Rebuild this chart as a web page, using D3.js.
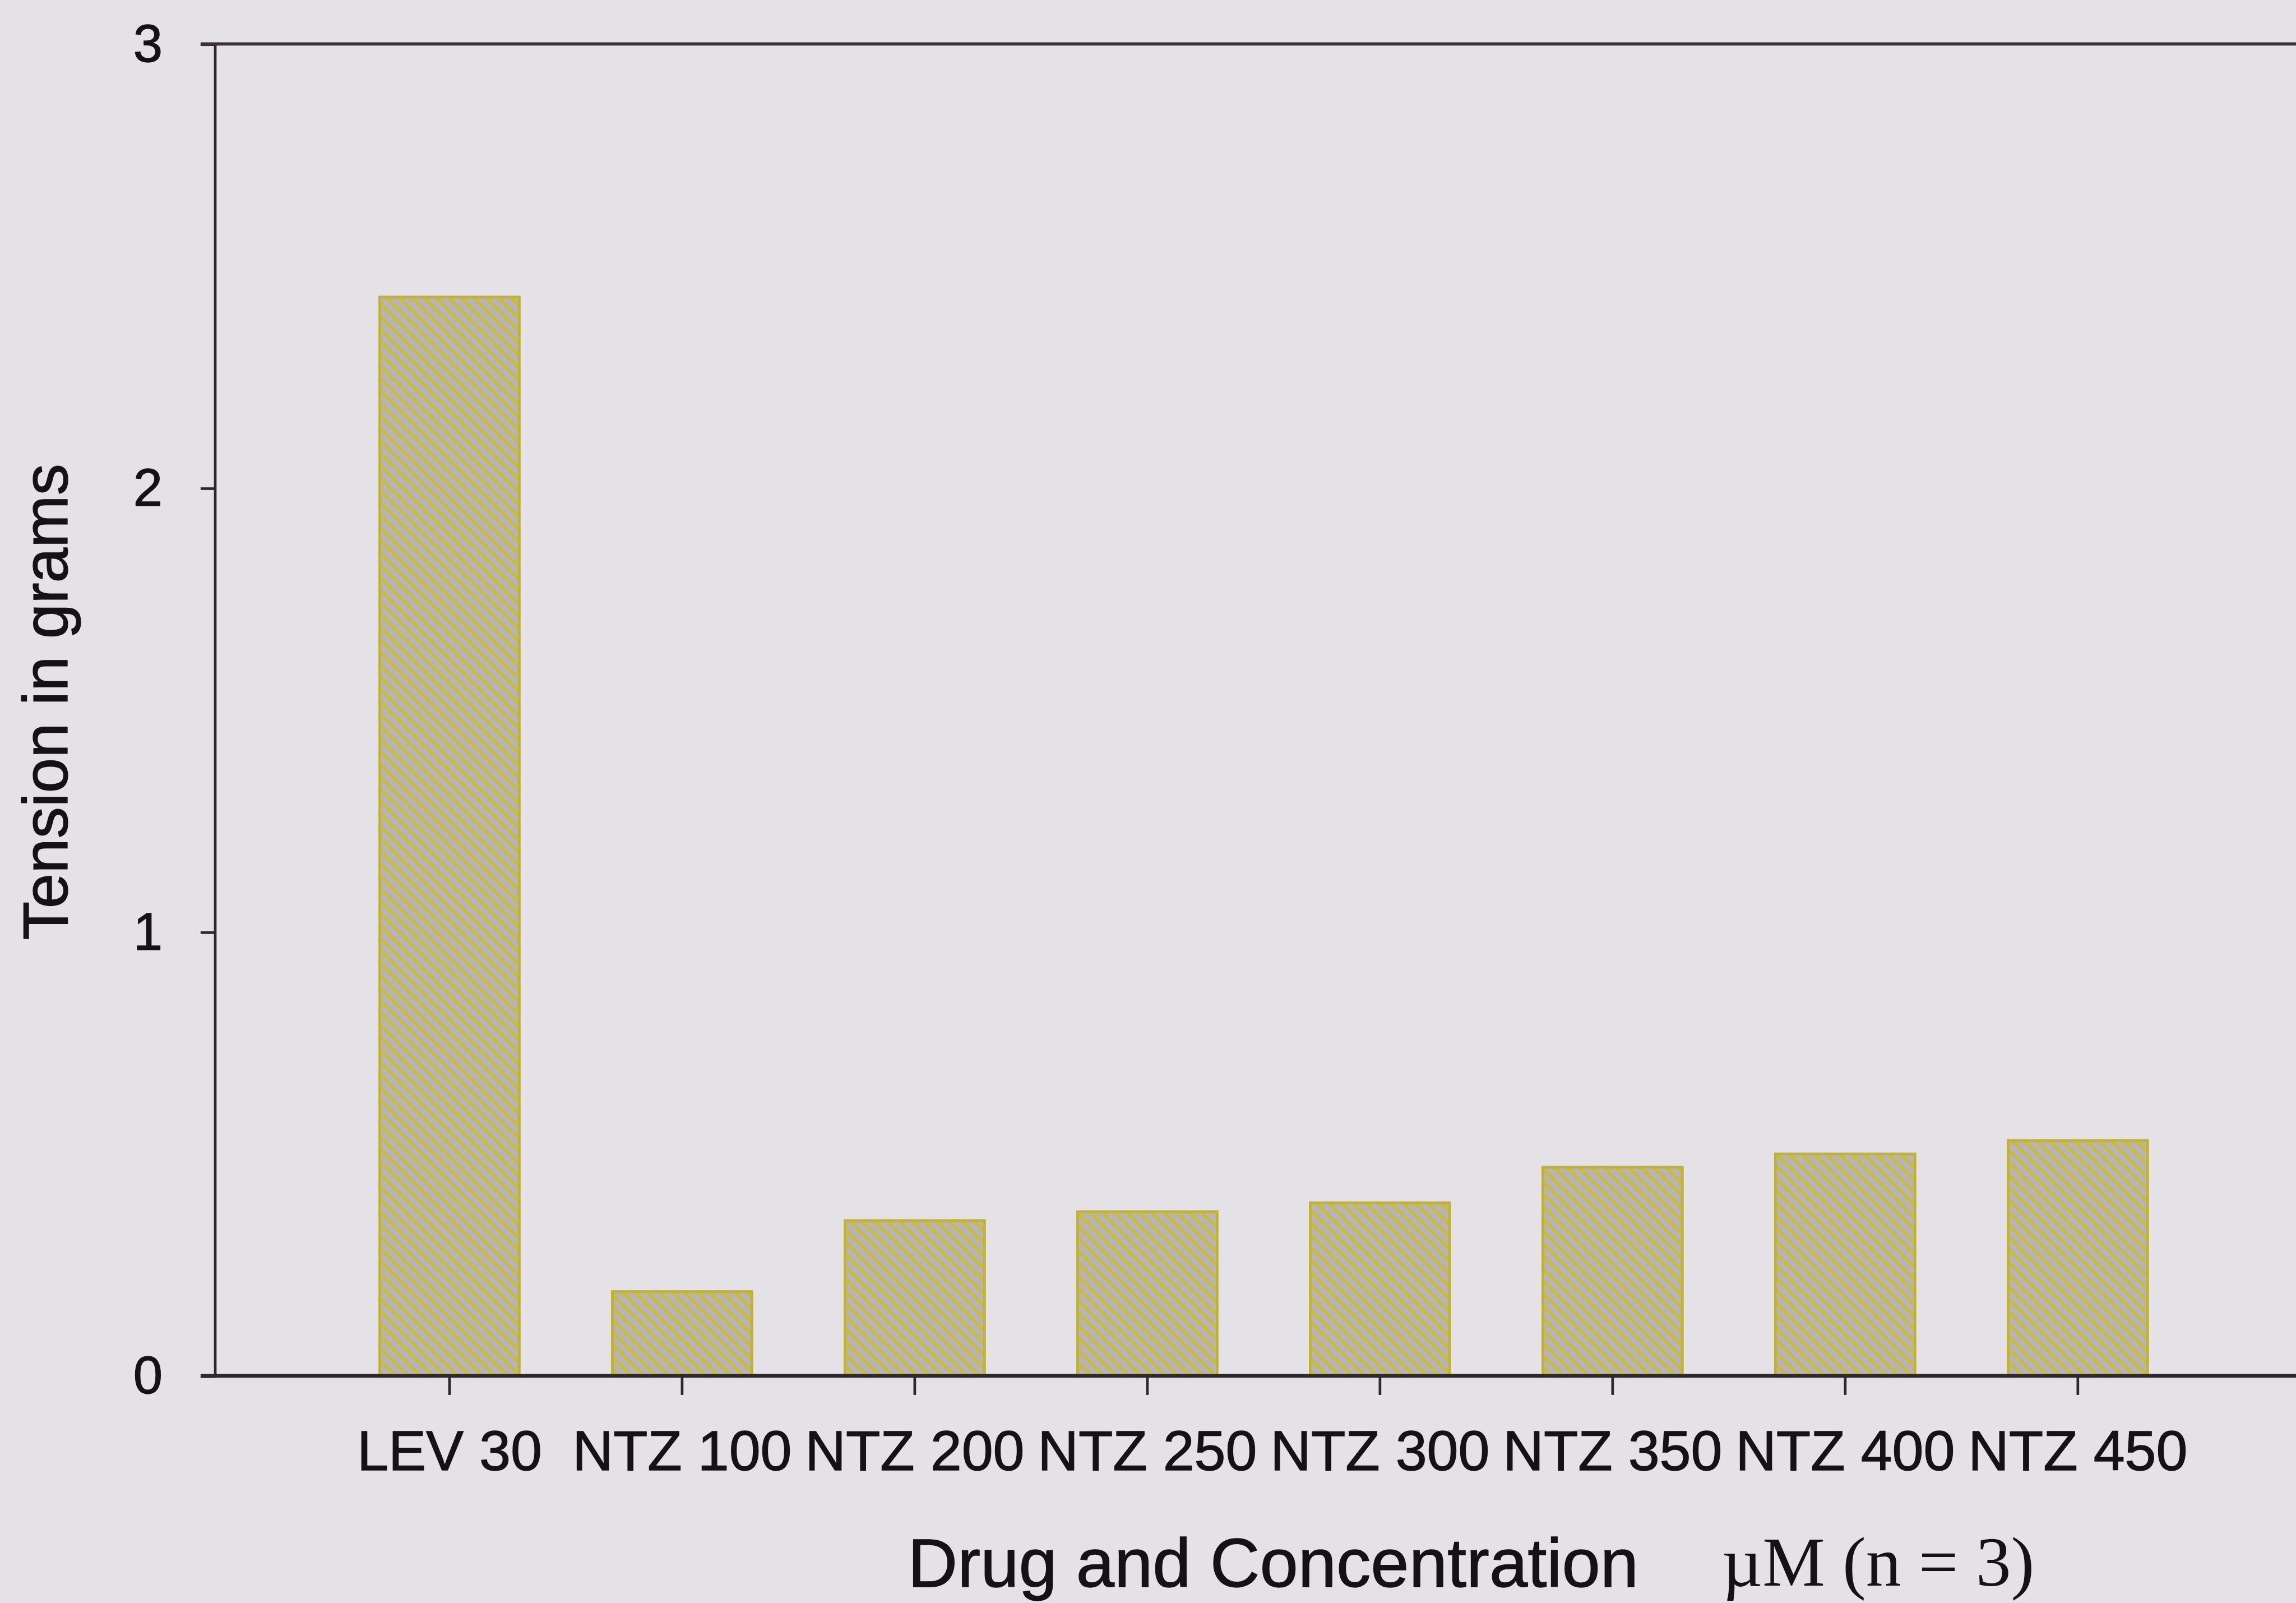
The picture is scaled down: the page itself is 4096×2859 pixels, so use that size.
<!DOCTYPE html>
<html>
<head>
<meta charset="utf-8">
<script src="https://cdn.jsdelivr.net/npm/d3@7"></script>
<style>
  html, body { margin: 0; padding: 0; background: #e4e2e7; overflow: hidden; }
  svg { display: block; }
</style>
</head>
<body>
<svg id="chart"></svg>
<script>
// Tension produced by each drug treatment
const categories = ["LEV 30", "NTZ 100", "NTZ 200", "NTZ 250", "NTZ 300", "NTZ 350", "NTZ 400", "NTZ 450"];
const tension = [2.43, 0.19, 0.35, 0.37, 0.39, 0.47, 0.50, 0.53];
const yTicks = [0, 1, 2, 3];

(function draw() {
  const W = 1568, H = 1094;
  const ink = "#141214";
  const sans = "Liberation Sans, Arial, sans-serif";
  const svg = d3.select("#chart")
    .attr("width", 4096).attr("height", 2859)
    .attr("viewBox", `0 0 ${W} ${H}`)
    .attr("preserveAspectRatio", "none");

  svg.append("rect").attr("width", W).attr("height", H).attr("fill", "#e4e2e7");

  // hatch: olive diagonal lines on grey
  const defs = svg.append("defs");
  const pat = defs.append("pattern")
    .attr("id", "hatch")
    .attr("patternUnits", "userSpaceOnUse")
    .attr("width", 6).attr("height", 6)
    .attr("patternTransform", "rotate(-45)");
  pat.append("rect").attr("width", 6).attr("height", 6).attr("fill", "#b6b4bb");
  pat.append("rect").attr("x", 0).attr("y", 0).attr("width", 2.2).attr("height", 6).attr("fill", "#cbbb38");

  const plotLeft = 147, plotTop = 30, plotBottom = 939, tickLen = 10;

  const x = d3.scaleBand()
    .domain(categories)
    .range([227.55, 1498.45])
    .paddingInner(0.4)
    .paddingOuter(0.2);

  const y = d3.scaleLinear().domain([0, 3]).range([plotBottom, plotTop]);

  // bars
  svg.append("g").selectAll("rect")
    .data(categories)
    .join("rect")
    .attr("x", d => x(d))
    .attr("y", (d, i) => y(tension[i]))
    .attr("width", x.bandwidth())
    .attr("height", (d, i) => y(0) - y(tension[i]))
    .attr("fill", "url(#hatch)")
    .attr("stroke", "#c4b22a")
    .attr("stroke-width", 1.8);

  // y axis
  const yAxis = svg.append("g")
    .attr("transform", `translate(${plotLeft},0)`)
    .call(d3.axisLeft(y).tickValues(yTicks).tickFormat(d3.format("d")).tickSize(tickLen).tickPadding(26));
  yAxis.select(".domain").remove();
  yAxis.selectAll(".tick line").attr("stroke", "#2c282c").attr("stroke-width", 1.8);
  yAxis.selectAll(".tick text")
    .attr("font-family", sans)
    .attr("font-size", 36)
    .attr("fill", ink)
    .attr("stroke", ink).attr("stroke-width", 0.5);

  // frame lines: left axis, top line
  svg.append("line").attr("x1", plotLeft).attr("x2", plotLeft).attr("y1", plotTop).attr("y2", plotBottom)
    .attr("stroke", "#2c282c").attr("stroke-width", 1.8);
  svg.append("line").attr("x1", plotLeft - tickLen).attr("x2", W).attr("y1", plotTop).attr("y2", plotTop)
    .attr("stroke", "#3a3234").attr("stroke-width", 2.2);

  // x axis
  const xAxis = svg.append("g")
    .attr("transform", `translate(0,${plotBottom})`)
    .call(d3.axisBottom(x).tickSize(13).tickPadding(24));
  xAxis.select(".domain").remove();
  xAxis.selectAll(".tick line").attr("stroke", "#2c282c").attr("stroke-width", 1.8);
  xAxis.selectAll(".tick text")
    .attr("font-family", sans)
    .attr("font-size", 38.5)
    .attr("fill", ink)
    .attr("stroke", ink).attr("stroke-width", 0.5);
  svg.append("line").attr("x1", plotLeft - tickLen).attr("x2", W).attr("y1", plotBottom).attr("y2", plotBottom)
    .attr("stroke", "#2c282c").attr("stroke-width", 2.6);

  // axis titles
  svg.append("text")
    .attr("transform", `translate(46,479) rotate(-90)`)
    .attr("text-anchor", "middle")
    .attr("font-family", sans)
    .attr("font-size", 43)
    .attr("fill", ink)
    .attr("stroke", ink).attr("stroke-width", 0.5)
    .text("Tension in grams");

  svg.append("text")
    .attr("x", 620).attr("y", 1083)
    .attr("font-family", sans)
    .attr("font-size", 47)
    .attr("fill", ink)
    .attr("stroke", ink).attr("stroke-width", 0.5)
    .text("Drug and Concentration");

  svg.append("text")
    .attr("x", 1176).attr("y", 1082)
    .attr("font-family", "Liberation Serif, Times New Roman, serif")
    .attr("font-size", 48)
    .attr("fill", ink)
    .text("\u00b5M (n = 3)");
})();
</script>
</body>
</html>
